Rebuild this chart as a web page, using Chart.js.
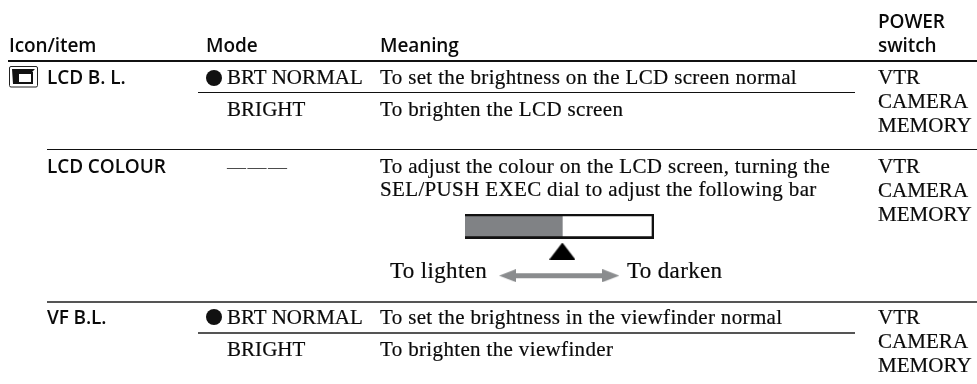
<!DOCTYPE html>
<html>
<head>
<meta charset="utf-8">
<script src="https://cdn.jsdelivr.net/npm/chart.js@4/dist/chart.umd.min.js"></script>
<style>
html,body{margin:0;padding:0;background:#fff;}
#page{position:relative;width:977px;height:384px;overflow:hidden;}
#chart{position:absolute;left:0;top:0;}
#icon{position:absolute;left:9px;top:66px;}
.t{position:absolute;white-space:pre;color:#0a0a0a;line-height:20px;}
.serif{font-family:"Liberation Serif",serif;font-size:21px;letter-spacing:.35px;-webkit-text-stroke:.2px #0a0a0a;}
.serif.big{font-size:23px;letter-spacing:.35px;}
.serif.caps{letter-spacing:.05px;}
.dash{font-family:"Liberation Serif",serif;font-size:19px;letter-spacing:1.5px;color:#444;}
.sans{font-family:"Open Sans",sans-serif;font-size:19px;font-weight:600;letter-spacing:-.1px;}
.rule{position:absolute;background:#111;}
.rule.soft{background:#555;}
.dot{position:absolute;width:16px;height:16px;border-radius:50%;background:#111;}
</style>
</head>
<body>
<div id="page">
  <canvas id="chart" width="977" height="384"></canvas>
  <svg id="icon" width="29" height="22" viewBox="0 0 29 22">
    <rect x="0.5" y="0.5" width="28" height="20.5" rx="1.5" fill="#fff" stroke="#222" stroke-width="1"/>
    <path d="M3 3H26L23 6H8V18H4Z" fill="#111"/>
    <rect x="9" y="7" width="14" height="10" fill="#fff" stroke="#111" stroke-width="2"/>
  </svg>
</div>
<script>
// colour bar values
const barRows = ["level", "marker", "range"];
const levelValue = [51.5];
const fullScale = [100];
const markerValue = 51.5;
const rangeValues = [22.5, 77.2];

// table text
const headers = ["Icon/item", "Mode", "Meaning"];
const powerHeader = ["POWER", "switch"];
const items = ["LCD B. L.", "LCD COLOUR", "VF B.L."];
const modes = ["BRT NORMAL", "BRIGHT", "———", "BRT NORMAL", "BRIGHT"];
const meanings = [
  "To set the brightness on the LCD screen normal",
  "To brighten the LCD screen",
  "To adjust the colour on the LCD screen, turning the",
  "SEL/PUSH EXEC dial to adjust the following bar",
  "To set the brightness in the viewfinder normal",
  "To brighten the viewfinder"
];
const powerModes = ["VTR", "CAMERA", "MEMORY"];
const rangeLabels = ["To lighten", "To darken"];

const page = document.getElementById("page");
const measure = document.createElement("canvas").getContext("2d");

function addText(str, x, baseline, cls) {
  const el = document.createElement("div");
  el.className = "t " + cls;
  el.textContent = str;
  page.appendChild(el);
  const st = getComputedStyle(el);
  measure.font = st.fontWeight + " " + st.fontSize + " " + st.fontFamily;
  const m = measure.measureText("Hg");
  const top = baseline - (10 + (m.fontBoundingBoxAscent - m.fontBoundingBoxDescent) / 2);
  el.style.left = x + "px";
  el.style.top = top + "px";
}
function addRule(x, y, w, h, cls) {
  const el = document.createElement("div");
  el.className = "rule " + (cls || "");
  el.style.cssText = "left:" + x + "px;top:" + y + "px;width:" + w + "px;height:" + h + "px";
  page.appendChild(el);
}
function addDot(x, y) {
  const el = document.createElement("div");
  el.className = "dot";
  el.style.left = x + "px";
  el.style.top = y + "px";
  page.appendChild(el);
}

// header
addText(headers[0], 9, 52, "sans");
addText(headers[1], 206, 52, "sans");
addText(headers[2], 380, 52, "sans");
addText(powerHeader[0], 878, 28, "sans");
addText(powerHeader[1], 878, 52, "sans");
// rules
addRule(8, 60, 969, 2);
addRule(198, 92, 657, 1);
addRule(47, 149, 930, 1);
addRule(47, 301, 930, 2, "soft");
addRule(198, 332, 657, 2, "soft");
// first column
addText(items[0], 47, 84, "sans");
addText(items[1], 47, 173, "sans");
addText(items[2], 47, 324, "sans");
// mode
addDot(206, 70);
addText(modes[0], 227, 84, "serif caps");
addText(modes[1], 227, 116, "serif caps");
addText(modes[2], 227, 173, "dash");
addDot(206, 309);
addText(modes[3], 227, 324, "serif caps");
addText(modes[4], 227, 356, "serif caps");
// meaning
addText(meanings[0], 380, 84, "serif");
addText(meanings[1], 380, 116, "serif");
addText(meanings[2], 380, 173, "serif");
addText(meanings[3], 380, 196, "serif");
addText(meanings[4], 380, 324, "serif");
addText(meanings[5], 380, 356, "serif");
// power
[84, 173, 324].forEach(function (y) {
  powerModes.forEach(function (p, i) { addText(p, 878, y + i * 24, "serif caps"); });
});
addText(rangeLabels[0], 390, 278, "serif big");
addText(rangeLabels[1], 627, 278, "serif big");

// marker shapes for pointStyle
function shape(w, h, color, pts) {
  const c = document.createElement("canvas");
  c.width = w; c.height = h;
  const g = c.getContext("2d");
  g.fillStyle = color;
  g.beginPath();
  pts.forEach(function (p, i) { i ? g.lineTo(p[0], p[1]) : g.moveTo(p[0], p[1]); });
  g.closePath();
  g.fill();
  return c;
}
const triangleUp = shape(26, 17, "#000", [[13, 0], [26, 17], [0, 17]]);
const headLeft = shape(17, 13, "#8a8c8e", [[0, 6.5], [17, 0], [17, 13]]);
const headRight = shape(17, 13, "#8a8c8e", [[17, 6.5], [0, 0], [0, 13]]);

new Chart(document.getElementById("chart"), {
  type: "bar",
  data: {
    labels: barRows,
    datasets: [
      {
        label: "Frame",
        data: fullScale,
        indexAxis: "y",
        grouped: false,
        order: 1,
        backgroundColor: "rgba(0,0,0,0)",
        borderColor: "#111",
        borderWidth: 2,
        barPercentage: 1,
        categoryPercentage: 1
      },
      {
        label: "Level",
        data: levelValue,
        indexAxis: "y",
        grouped: false,
        order: 2,
        backgroundColor: "#808285",
        barPercentage: 1,
        categoryPercentage: 1
      },
      {
        type: "scatter",
        label: "Marker",
        data: [{ x: markerValue, y: barRows[1] }],
        order: 0,
        clip: false,
        pointStyle: triangleUp,
        pointRadius: 10
      },
      {
        type: "line",
        label: "Range",
        data: rangeValues.map(function (v) { return { x: v, y: barRows[2] }; }),
        order: 0,
        clip: false,
        borderColor: "#8a8c8e",
        borderWidth: 5,
        pointStyle: [headLeft, headRight],
        pointRadius: 10
      }
    ]
  },
  options: {
    responsive: false,
    animation: false,
    layout: { padding: { left: 465, right: 323, top: 214, bottom: 96 } },
    plugins: { legend: { display: false }, tooltip: { enabled: false }, title: { display: false } },
    scales: {
      x: { type: "linear", min: 0, max: 100, offset: false, display: false },
      y: { type: "category", display: false, offset: true }
    }
  }
});
</script>
</body>
</html>
